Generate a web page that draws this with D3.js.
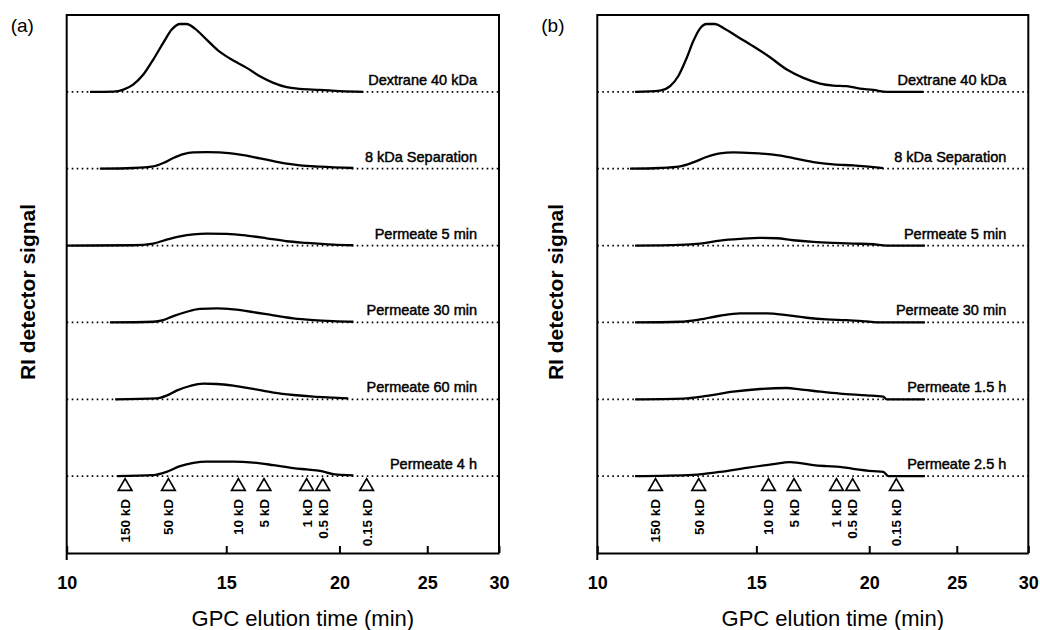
<!DOCTYPE html>
<html>
<head>
<meta charset="utf-8">
<script src="https://cdn.jsdelivr.net/npm/d3@7"></script>
<style>
  body { margin: 0; background: #fff; }
  svg { font-family: Arial, "Liberation Sans", sans-serif; }
</style>
</head>
<body>
<div id="chart"></div>
<script>
// Series names, top to bottom
const namesA = ["Dextrane 40 kDa", "8 kDa Separation", "Permeate 5 min", "Permeate 30 min", "Permeate 60 min", "Permeate 4 h"];
const namesB = ["Dextrane 40 kDa", "8 kDa Separation", "Permeate 5 min", "Permeate 30 min", "Permeate 1.5 h", "Permeate 2.5 h"];

// [elution time (min), RI signal], panel (a)
const dexA = [[10.61,0],[11.26,0.004],[11.55,0.03],[11.84,0.095],[12.15,0.225],[12.46,0.42],[12.78,0.636],[13.06,0.81],[13.34,0.883],[13.57,0.883],[13.85,0.823],[14.27,0.68],[14.76,0.519],[15.27,0.407],[15.8,0.312],[16.34,0.203],[16.91,0.117],[17.49,0.061],[18.09,0.039],[19.04,0.026],[20.03,0.009],[21.25,0]];
const sepA = [[10.88,0],[11.84,0.009],[12.46,0.03],[12.78,0.074],[13.11,0.139],[13.45,0.19],[13.8,0.212],[14.27,0.216],[14.76,0.212],[15.27,0.195],[15.8,0.169],[16.34,0.134],[16.91,0.1],[17.49,0.065],[18.09,0.043],[19.04,0.026],[20.72,0.009]];
const p5A = [[10,0],[11.84,0.004],[12.46,0.026],[12.89,0.078],[13.34,0.121],[13.8,0.147],[14.27,0.156],[15.02,0.152],[15.8,0.13],[16.62,0.095],[17.49,0.056],[18.4,0.035],[19.69,0.013],[20.72,0.004]];
const p30A = [[11.16,0],[12.46,0.009],[12.78,0.03],[13.11,0.082],[13.57,0.139],[14.03,0.177],[14.64,0.182],[15.27,0.169],[16.07,0.134],[16.91,0.091],[17.79,0.052],[18.72,0.03],[19.69,0.017],[20.72,0.009]];
const p60A = [[11.31,0],[12.57,0.013],[12.89,0.048],[13.22,0.113],[13.68,0.173],[14.15,0.203],[14.64,0.199],[15.27,0.177],[16.07,0.134],[16.91,0.087],[17.79,0.056],[18.72,0.035],[19.69,0.022],[20.45,0.013]];
const p4hA = [[11.36,0],[12.46,0.013],[12.89,0.056],[13.34,0.13],[13.8,0.173],[14.27,0.19],[15.27,0.19],[16.07,0.177],[16.91,0.143],[17.79,0.104],[18.4,0.087],[19.04,0.069],[19.69,0.026],[20.72,0.009]];

// panel (b)
const dexB = [[11.01,0],[11.73,0.017],[12.04,0.074],[12.29,0.203],[12.56,0.442],[12.77,0.658],[12.99,0.823],[13.22,0.883],[13.5,0.883],[13.79,0.831],[14.27,0.723],[14.88,0.593],[15.53,0.45],[16.21,0.29],[16.91,0.182],[17.64,0.108],[18.25,0.082],[18.88,0.074],[19.53,0.043],[20.21,0.026],[20.91,0],[22.96,0]];
const sepB = [[10.87,0],[11.73,0.009],[12.35,0.03],[12.77,0.082],[13.21,0.152],[13.67,0.199],[14.14,0.212],[14.88,0.203],[15.66,0.182],[16.48,0.139],[17.34,0.087],[18.25,0.056],[19.2,0.043],[20.73,0.009]];
const p5B = [[11.01,0],[12.35,0.009],[12.99,0.026],[13.67,0.065],[14.39,0.087],[15.14,0.1],[15.8,0.095],[16.48,0.069],[17.34,0.048],[18.25,0.035],[19.2,0.026],[20.21,0.017],[20.91,0],[23.05,0]];
const p30B = [[11.01,0],[12.35,0.009],[12.99,0.039],[13.67,0.087],[14.39,0.117],[15.4,0.117],[16.2,0.095],[17.05,0.061],[17.94,0.039],[18.88,0.03],[19.87,0.013],[20.55,0],[23.05,0]];
const p15B = [[11.01,0],[12.45,0.009],[13.21,0.043],[14.14,0.1],[15.14,0.134],[16.2,0.147],[16.76,0.13],[17.64,0.1],[18.56,0.074],[19.87,0.052],[20.73,0.035],[20.91,0],[23.05,0]];
const p25B = [[11.01,0],[12.77,0.017],[13.67,0.056],[14.63,0.108],[15.66,0.156],[16.34,0.182],[16.62,0.177],[17.34,0.143],[17.94,0.13],[18.56,0.121],[19.2,0.095],[20.21,0.065],[20.73,0.056],[21.0,0],[23.05,0]];

// Molecular weight calibration markers
const markerTimes = [11.6, 12.95, 15.47, 16.51, 18.4, 19.17, 21.43];
const markerLabels = ["150 kD", "50 kD", "10 kD", "5 kD", "1 kD", "0.5 kD", "0.15 kD"];

const xTicks = [10, 15, 20, 25, 30];

const W = 1040, H = 630;
const plotTop = 15, plotBottom = 553;

const svg = d3.select("#chart")
    .append("svg")
    .attr("width", W)
    .attr("height", H);

function drawPanel(tag, x0, x1, names, traces, ylabX) {
    const x = d3.scaleLog().domain([10, 30]).range([x0, x1]);
    const y = d3.scaleLinear().domain([-1, 6]).range([plotBottom, plotTop]);
    const g = svg.append("g");

    // dotted baselines
    names.forEach((n, i) => {
        g.append("line")
            .attr("x1", x0).attr("x2", x1)
            .attr("y1", y(5 - i)).attr("y2", y(5 - i))
            .attr("stroke", "#000")
            .attr("stroke-width", 1.8)
            .attr("stroke-dasharray", "1.6,3.4");
    });

    // traces, stacked with an offset
    const line = d3.line()
        .x(d => x(d[0]))
        .y(d => y(d[1]))
        .curve(d3.curveMonotoneX);

    traces.forEach((tr, i) => {
        const off = 5 - i;
        g.append("path")
            .datum(tr.map(d => [d[0], d[1] + off]))
            .attr("d", line)
            .attr("fill", "none")
            .attr("stroke", "#000")
            .attr("stroke-width", 2.3)
            .attr("stroke-linejoin", "round");
        g.append("text")
            .attr("x", x1 - 22)
            .attr("y", y(off) - 7)
            .attr("text-anchor", "end")
            .attr("font-size", 14.5)
            .attr("stroke", "#000")
            .attr("stroke-width", 0.45)
            .text(names[i]);
    });

    // calibration triangles
    g.selectAll(".mk")
        .data(markerTimes)
        .join("path")
        .attr("transform", d => `translate(${x(d)},486.5)`)
        .attr("d", d3.symbol(d3.symbolTriangle).size(80))
        .attr("fill", "#fff")
        .attr("stroke", "#000")
        .attr("stroke-width", 1.7);

    g.selectAll(".mkl")
        .data(markerTimes)
        .join("text")
        .attr("transform", d => `translate(${x(d)},499) rotate(-90)`)
        .attr("dy", "0.36em")
        .attr("text-anchor", "end")
        .attr("font-size", 13.5)
        .attr("font-weight", "bold")
        .text((d, i) => markerLabels[i]);

    // x axis
    const ax = g.append("g")
        .attr("transform", `translate(0,${plotBottom})`)
        .call(d3.axisBottom(x)
            .tickValues(xTicks)
            .tickFormat(d3.format("d"))
            .tickSizeInner(-7)
            .tickSizeOuter(0)
            .tickPadding(23.7));
    ax.select(".domain").attr("stroke-width", 2);
    ax.selectAll(".tick line").attr("stroke-width", 2);
    ax.selectAll(".tick text")
        .attr("font-size", 18)
        .attr("font-weight", "bold")
        .attr("font-family", "Arial, 'Liberation Sans', sans-serif")
        .attr("fill", "#000");

    // frame
    g.append("path")
        .attr("d", `M${x0},${plotBottom + 7}V${plotTop}H${x1}V${plotBottom}`)
        .attr("fill", "none")
        .attr("stroke", "#000")
        .attr("stroke-width", 2);

    // axis titles
    g.append("text")
        .attr("x", (x0 + x1) / 2 + 20)
        .attr("y", 626)
        .attr("text-anchor", "middle")
        .attr("font-size", 22)
        .text("GPC elution time (min)");

    g.append("text")
        .attr("transform", `translate(${ylabX},292) rotate(-90)`)
        .attr("text-anchor", "middle")
        .attr("font-size", 21)
        .attr("font-weight", "bold")
        .text("RI detector signal");

    g.append("text")
        .attr("x", x0 - 56)
        .attr("y", 32)
        .attr("font-size", 19)
        .text(tag);
}

drawPanel("(a)", 66.7, 499, namesA, [dexA, sepA, p5A, p30A, p60A, p4hA], 35);
drawPanel("(b)", 597.3, 1028.3, namesB, [dexB, sepB, p5B, p30B, p15B, p25B], 563);
</script>
</body>
</html>
